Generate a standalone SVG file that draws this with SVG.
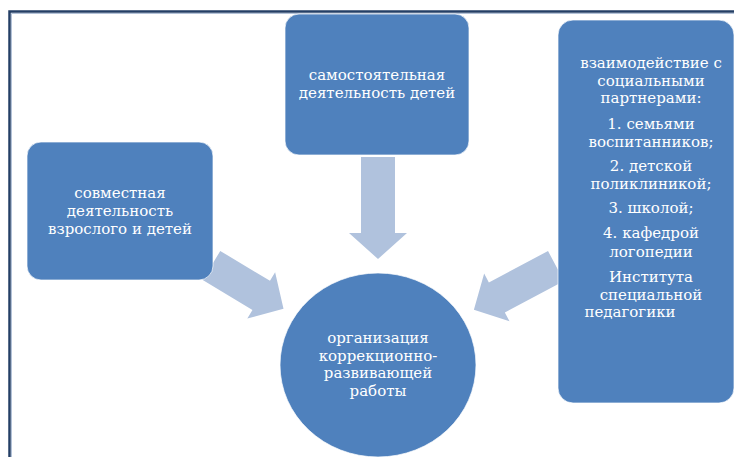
<svg xmlns="http://www.w3.org/2000/svg" width="734" height="457" viewBox="0 0 734 457">
  <style>
    .node { fill: #4F81BD; stroke: #ffffff; stroke-opacity: 0.7; stroke-width: 1; }
    .arrow { fill: #B0C2DD; }
    .lbl { font-family: "DejaVu Serif", "Liberation Serif", serif; font-size: 15px; fill: #ffffff; text-anchor: middle; }
    .frame { fill: none; stroke: #243F66; stroke-width: 2.5; }
  </style>
  <rect x="0" y="0" width="734" height="457" fill="#ffffff"/>
  <path class="frame" d="M9.5,458 V11.5 H735"/>
  <path d="M11.5,458 V13.5 H735" fill="none" stroke="#9FB2CE" stroke-width="0.8"/>

  <g id="connectors">
    <path class="arrow" d="M361,157 H395 V233 H407 L378,259 L349,233 H361 Z"/>
    <path class="arrow" d="M0,-17 H58 V-27 L84,0 L58,27 V17 H0 Z" transform="translate(211.5,265.5) rotate(31)"/>
    <path class="arrow" d="M0,-17 H67 V-27 L93,0 L67,27 V17 H0 Z" transform="translate(556,266) rotate(152)"/>
  </g>

  <g id="node-top">
    <rect class="node" x="285" y="14" width="184" height="141" rx="14"/>
    <text class="lbl" x="377" y="80">самостоятельная</text>
    <text class="lbl" x="377" y="98">деятельность детей</text>
  </g>

  <g id="node-left">
    <rect class="node" x="27" y="142" width="186" height="138" rx="14"/>
    <text class="lbl" x="120" y="198">совместная</text>
    <text class="lbl" x="120" y="216">деятельность</text>
    <text class="lbl" x="120" y="234">взрослого и детей</text>
  </g>

  <g id="node-right">
    <rect class="node" x="558" y="20" width="176" height="383" rx="15"/>
    <text class="lbl" x="651" y="68">взаимодействие с</text>
    <text class="lbl" x="651" y="86">социальными</text>
    <text class="lbl" x="651" y="103">партнерами:</text>
    <text class="lbl" x="651" y="129">1. семьями</text>
    <text class="lbl" x="651" y="147">воспитанников;</text>
    <text class="lbl" x="651" y="171">2. детской</text>
    <text class="lbl" x="651" y="189">поликлиникой;</text>
    <text class="lbl" x="651" y="213">3. школой;</text>
    <text class="lbl" x="651" y="238">4. кафедрой</text>
    <text class="lbl" x="651" y="257">логопедии</text>
    <text class="lbl" x="651" y="282">Института</text>
    <text class="lbl" x="651" y="300">специальной</text>
    <text class="lbl" x="630" y="317">педагогики</text>
  </g>

  <g id="node-center">
    <ellipse class="node" cx="378" cy="365" rx="98" ry="92"/>
    <text class="lbl" x="378" y="343">организация</text>
    <text class="lbl" x="378" y="361">коррекционно-</text>
    <text class="lbl" x="378" y="378">развивающей</text>
    <text class="lbl" x="378" y="396">работы</text>
  </g>
</svg>
